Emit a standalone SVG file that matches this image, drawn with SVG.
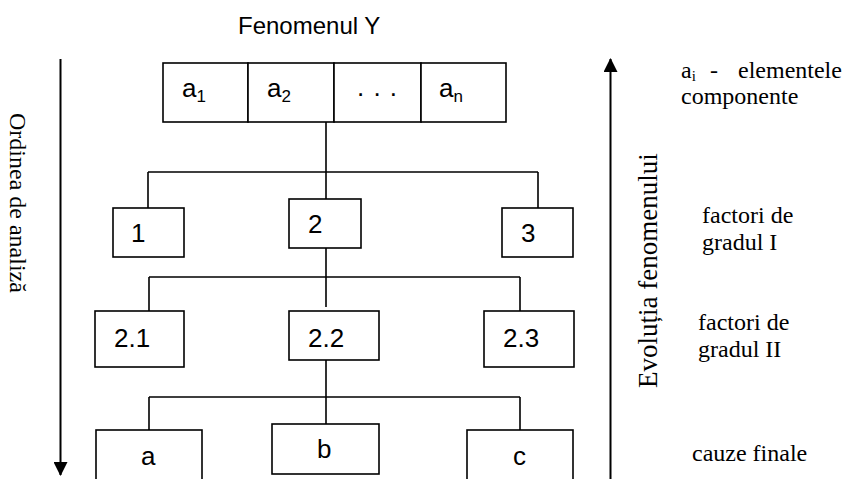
<svg xmlns="http://www.w3.org/2000/svg" width="843" height="479" viewBox="0 0 843 479">
<style>
.box{fill:#fff;stroke:#000;stroke-width:1.6}
.ln{fill:none;stroke:#000;stroke-width:1.6}
.ar{fill:none;stroke:#000;stroke-width:2}
.t{font-family:"Liberation Sans",Arial,sans-serif;font-size:26px;fill:#000}
.s{font-family:"Liberation Serif","Times New Roman",serif;font-size:24px;fill:#000}
</style>
<defs>
<marker id="ah" viewBox="0 0 14 14" refX="13" refY="7" markerWidth="14" markerHeight="14" markerUnits="userSpaceOnUse" orient="auto">
<path d="M0,0 L14,7 L0,14 Z" fill="#000"/>
</marker>
</defs>
<rect width="843" height="479" fill="#fff"/>
<text x="238" y="34" style="font-family:'Liberation Sans',Arial,sans-serif;font-size:24px">Fenomenul Y</text>

<g id="connectors">
<line class="ar" x1="60.5" y1="59" x2="60.5" y2="475" marker-end="url(#ah)"/>
<line class="ar" x1="610.5" y1="479" x2="610.5" y2="59" marker-end="url(#ah)"/>
<path class="ln" d="M326,122 V204 M148,172 H538 M148,172 V208 M538,172 V208"/>
<path class="ln" d="M326,242 V277 M149,277 H520 M149,277 V311 M326,277 V307 M520,277 V311"/>
<path class="ln" d="M326,360 V397 M149,397 H520 M149,397 V430 M326,397 V424 M520,397 V430"/>
</g>

<g id="a1"><rect class="box" x="163" y="63" width="85" height="59"/><text class="t" x="182" y="97">a<tspan font-size="17" dy="5">1</tspan></text></g>
<g id="a2"><rect class="box" x="248" y="63" width="86" height="59"/><text class="t" x="267" y="97">a<tspan font-size="17" dy="5">2</tspan></text></g>
<g id="dots"><rect class="box" x="334" y="63" width="87" height="59"/><text class="t" x="377.5" y="96" text-anchor="middle" letter-spacing="1">. . .</text></g>
<g id="an"><rect class="box" x="421" y="63" width="85" height="59"/><text class="t" x="439" y="97">a<tspan font-size="17" dy="5">n</tspan></text></g>

<g id="n1"><rect class="box" x="113" y="208" width="71" height="49"/><text class="t" x="131" y="242">1</text></g>
<g id="n2"><rect class="box" x="289" y="199" width="72" height="49"/><text class="t" x="308" y="233">2</text></g>
<g id="n3"><rect class="box" x="502" y="208" width="71" height="49"/><text class="t" x="521" y="242">3</text></g>

<g id="n21"><rect class="box" x="95" y="311" width="89" height="56"/><text class="t" x="114" y="347">2.1</text></g>
<g id="n22"><rect class="box" x="289" y="311" width="90" height="49"/><text class="t" x="308" y="347">2.2</text></g>
<g id="n23"><rect class="box" x="484" y="311" width="90" height="56"/><text class="t" x="503" y="347">2.3</text></g>

<g id="na"><rect class="box" x="96" y="430" width="106" height="60"/><text class="t" x="141" y="465">a</text></g>
<g id="nb"><rect class="box" x="272" y="424" width="107" height="50"/><text class="t" x="317" y="458">b</text></g>
<g id="nc"><rect class="box" x="467" y="430" width="106" height="60"/><text class="t" x="513" y="465">c</text></g>

<g id="labels">
<text class="s" transform="translate(10,113) rotate(90)">Ordinea de analiză</text>
<text class="s" font-size="27" style="font-size:27px" transform="translate(657,388) rotate(-90)">Evoluția fenomenului</text>
<text class="s" y="78"><tspan x="681">a</tspan><tspan font-size="15" dy="3">i</tspan><tspan x="710" dy="-3">-</tspan><tspan x="738">elementele</tspan></text>
<text class="s" x="681" y="104">componente</text>
<text class="s" x="702" y="223">factori de</text>
<text class="s" x="702" y="250">gradul I</text>
<text class="s" x="698" y="330">factori de</text>
<text class="s" x="698" y="357">gradul II</text>
<text class="s" x="692" y="461">cauze finale</text>
</g>
</svg>
